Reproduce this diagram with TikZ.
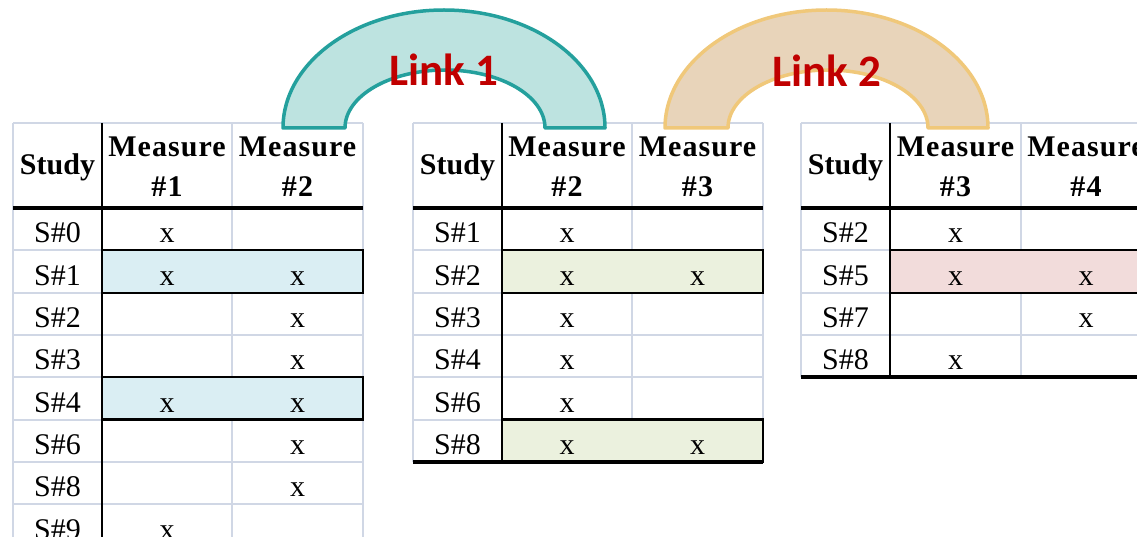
\documentclass[tikz,border=0pt]{standalone}
\usepackage{fontspec}
\setmainfont{Liberation Serif}
\newfontfamily\linkfont{Carlito}
\newfontfamily\measfont[LetterSpace=3.5]{Liberation Serif}
\definecolor{gridgrey}{RGB}{208,215,229}
\definecolor{hlblue}{RGB}{218,238,243}
\definecolor{hlgreen}{RGB}{235,241,222}
\definecolor{hlpink}{RGB}{242,220,219}
\definecolor{tealline}{RGB}{36,160,157}
\definecolor{tealfill}{RGB}{189,227,224}
\definecolor{orangeline}{RGB}{240,200,122}
\definecolor{orangefill}{RGB}{232,212,186}
\definecolor{linkred}{RGB}{192,0,0}
\begin{document}
\begin{tikzpicture}[x=1pt,y=-1pt,
  gridline/.style={draw=gridgrey,line width=2pt},
  blackrule/.style={draw=black,line width=2pt},
  headrule/.style={draw=black,line width=3.5pt},
  hlbox/.style={draw=black,line width=2.2pt},
  cell/.style={font=\fontsize{30}{36}\selectfont, inner sep=0pt, anchor=base},
  hdr/.style={font=\bfseries\fontsize{30}{40}\selectfont, inner sep=0pt, align=center},
  meas/.style={font=\measfont\bfseries\fontsize{30}{40}\selectfont, inner sep=0pt, align=center, anchor=north},
  linktext/.style={font=\linkfont\bfseries\fontsize{45}{50}\selectfont, text=linkred, inner sep=0pt, anchor=base},
  archone/.style={draw=tealline, fill=tealfill, line width=3.5pt, line join=round},
  archtwo/.style={draw=orangeline, fill=orangefill, line width=3.5pt, line join=round}]
\useasboundingbox (0,0) rectangle (1137,537);
\clip (0,0) rectangle (1137,537);
\fill[white] (0,0) rectangle (1137,537);

% ---------------- Table 1 ----------------
\foreach \y in {123,250.3,292.6,334.9,377.2,419.5,461.8,504.1}
  \draw[gridline] (13,\y) -- (363,\y);
\foreach \x in {13,232,363}
  \draw[gridline] (\x,123) -- (\x,540);
\fill[hlblue] (102,250.3) rectangle (363,292.6);
\fill[hlblue] (102,377.2) rectangle (363,419.5);
\draw[blackrule] (102,123) -- (102,540);
\draw[headrule] (13,208) -- (363,208);
\draw[hlbox] (102,250.3) rectangle (363,292.6);
\draw[hlbox] (102,377.2) rectangle (363,419.5);
\node[hdr,anchor=base] (t1study) at (57.5,175) {Study};
\node[meas] (t1ma) at (167,137) {Measure\\\#1};
\node[meas] (t1mb) at (297.5,137) {Measure\\\#2};
\foreach \lab/\a/\b [count=\i] in {0/x/,1/x/x,2//x,3//x,4/x/x,6//x,8//x,9/x/} {
  \node[cell] (t1s\i) at (57.5,{208+(\i-1)*42.3+35}) {S\#\lab};
  \node[cell] (t1a\i) at (167,{208+(\i-1)*42.3+35}) {\a};
  \node[cell] (t1b\i) at (297.5,{208+(\i-1)*42.3+35}) {\b};
}

% ---------------- Table 2 ----------------
\foreach \y in {123,250.3,292.6,334.9,377.2,419.5}
  \draw[gridline] (413,\y) -- (763,\y);
\foreach \x in {413,632,763}
  \draw[gridline] (\x,123) -- (\x,461.8);
\fill[hlgreen] (502,250.3) rectangle (763,292.6);
\fill[hlgreen] (502,419.5) rectangle (763,461.8);
\draw[blackrule] (502,123) -- (502,461.8);
\draw[headrule] (413,208) -- (763,208);
\draw[headrule] (413,461.8) -- (763,461.8);
\draw[hlbox] (502,250.3) rectangle (763,292.6);
\draw[hlbox] (502,419.5) rectangle (763,461.8);
\node[hdr,anchor=base] (t2study) at (457.5,175) {Study};
\node[meas] (t2ma) at (567,137) {Measure\\\#2};
\node[meas] (t2mb) at (697.5,137) {Measure\\\#3};
\foreach \lab/\a/\b [count=\i] in {1/x/,2/x/x,3/x/,4/x/,6/x/,8/x/x} {
  \node[cell] (t2s\i) at (457.5,{208+(\i-1)*42.3+35}) {S\#\lab};
  \node[cell] (t2a\i) at (567,{208+(\i-1)*42.3+35}) {\a};
  \node[cell] (t2b\i) at (697.5,{208+(\i-1)*42.3+35}) {\b};
}

% ---------------- Table 3 ----------------
\foreach \y in {123,250.3,292.6,334.9}
  \draw[gridline] (801,\y) -- (1151,\y);
\foreach \x in {801,1021}
  \draw[gridline] (\x,123) -- (\x,377.2);
\fill[hlpink] (890,250.3) rectangle (1151,292.6);
\draw[blackrule] (890,123) -- (890,377.2);
\draw[headrule] (801,208) -- (1151,208);
\draw[headrule] (801,377.2) -- (1151,377.2);
\draw[hlbox] (890,250.3) rectangle (1151,292.6);
\node[hdr,anchor=base] (t3study) at (845.5,175) {Study};
\node[meas] (t3ma) at (955.5,137) {Measure\\\#3};
\node[meas] (t3mb) at (1086,137) {Measure\\\#4};
\foreach \lab/\a/\b [count=\i] in {2/x/,5/x/x,7//x,8/x/} {
  \node[cell] (t3s\i) at (845.5,{208+(\i-1)*42.3+35}) {S\#\lab};
  \node[cell] (t3a\i) at (955.5,{208+(\i-1)*42.3+35}) {\a};
  \node[cell] (t3b\i) at (1086,{208+(\i-1)*42.3+35}) {\b};
}

% ---------------- Arches ----------------
\draw[archone] (283,128) arc[start angle=180,end angle=0,x radius=161pt,y radius=118pt]
  -- (545,128) arc[start angle=0,end angle=180,x radius=100pt,y radius=58pt] -- cycle;
\node[linktext] (linka) at (444,86) {Link 1};
\draw[archtwo] (665,128) arc[start angle=180,end angle=0,x radius=161.5pt,y radius=118pt]
  -- (928,128) arc[start angle=0,end angle=180,x radius=100pt,y radius=58pt] -- cycle;
\node[linktext] (linkb) at (827,87) {Link 2};
\end{tikzpicture}
\end{document}
